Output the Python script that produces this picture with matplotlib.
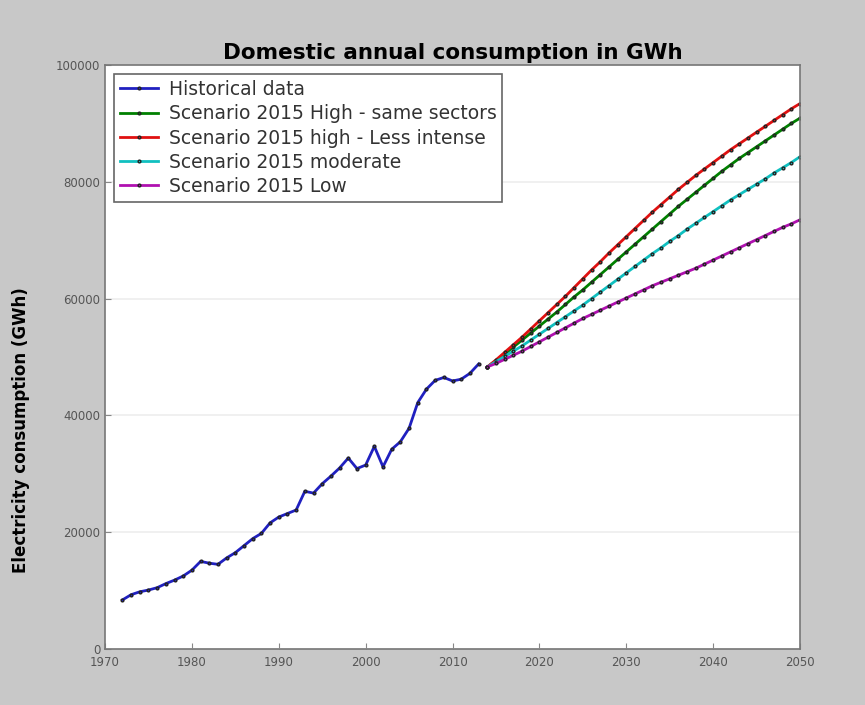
import matplotlib
matplotlib.use("Agg")
import matplotlib.pyplot as plt

hist_years = list(range(1972, 2014))
hist_vals = [8400, 9300, 9800, 10100, 10500, 11200, 11800, 12500, 13500, 15000,
             14700, 14500, 15600, 16500, 17700, 18900, 19800, 21600, 22600, 23200,
             23800, 27000, 26700, 28300, 29600, 31000, 32700, 30900, 31500, 34700,
             31200, 34200, 35500, 37800, 42200, 44500, 46000, 46500, 45900, 46200,
             47200, 48800]

scen_years = list(range(2014, 2051))
high_same = [48300, 49400, 50500, 51700, 52900, 54100, 55300, 56500, 57700, 59000,
             60300, 61500, 62800, 64100, 65400, 66700, 68000, 69300, 70600, 71900,
             73200, 74500, 75800, 77000, 78200, 79400, 80600, 81800, 82900, 84000,
             85000, 86000, 87000, 88000, 89000, 90000, 90900]
high_less = [48300, 49500, 50800, 52100, 53400, 54800, 56200, 57600, 59000, 60400,
             61900, 63400, 64900, 66300, 67800, 69200, 70600, 72000, 73400, 74800,
             76100, 77400, 78700, 79900, 81100, 82200, 83300, 84400, 85500, 86500,
             87500, 88500, 89500, 90500, 91500, 92500, 93400]
moderate = [48300, 49200, 50100, 51000, 51900, 52900, 53900, 54900, 55900, 56900,
            57900, 58900, 60000, 61100, 62200, 63300, 64400, 65500, 66600, 67700,
            68700, 69800, 70800, 71900, 72900, 73900, 74900, 75900, 76900, 77800,
            78700, 79600, 80500, 81500, 82400, 83300, 84300]
low = [48300, 48900, 49600, 50300, 51000, 51800, 52600, 53400, 54200, 55000,
       55800, 56600, 57300, 58000, 58700, 59400, 60100, 60800, 61500, 62200,
       62800, 63400, 64000, 64600, 65200, 65900, 66600, 67300, 68000, 68700,
       69400, 70100, 70800, 71500, 72200, 72800, 73500]

fig = plt.figure(figsize=(8.65, 7.05), dpi=100, facecolor="#c8c8c8")
ax = fig.add_axes([0.1214, 0.0794, 0.8035, 0.8284])

kw = dict(marker=".", markersize=4, lw=2, mec="#222222")
ax.plot(hist_years, hist_vals, color="#2020c0", label="Historical data", **kw)
ax.plot(scen_years, high_same, color="#008000", label="Scenario 2015 High - same sectors", **kw)
ax.plot(scen_years, high_less, color="#e01010", label="Scenario 2015 high - Less intense", **kw)
ax.plot(scen_years, moderate, color="#10c0c0", label="Scenario 2015 moderate", **kw)
ax.plot(scen_years, low, color="#b010b0", label="Scenario 2015 Low", **kw)

ax.set_xlim(1970, 2050)
ax.set_ylim(0, 100000)
ax.set_xticks(range(1970, 2051, 10))
ax.set_yticks(range(0, 100001, 20000))
ax.tick_params(labelsize=8.5, labelcolor="#555555", direction="in", length=4, color="#888888")
ax.tick_params(axis="x", pad=5)
ax.yaxis.grid(True, color="#eeeeee", lw=1.2)
for s in ax.spines.values():
    s.set_color("#777777")
    s.set_linewidth(1.2)

ax.set_title("Domestic annual consumption in GWh", fontsize=15.5, fontweight="bold", pad=4)
ax.set_ylabel("Electricity consumption (GWh)", fontsize=12, fontweight="bold")
ax.yaxis.set_label_coords(-0.108, 0.375)

leg = ax.legend(loc="upper left", fontsize=13.5, fancybox=False, framealpha=1,
                handlelength=2.0, handletextpad=0.6, borderpad=0.3, labelspacing=0.28,
                bbox_to_anchor=(0.0, 1.0))
leg.get_frame().set_edgecolor("#666666")
leg.get_frame().set_linewidth(1.2)
for t in leg.get_texts():
    t.set_color("#333333")

fig.savefig("out.png", dpi=100, facecolor=fig.get_facecolor())
